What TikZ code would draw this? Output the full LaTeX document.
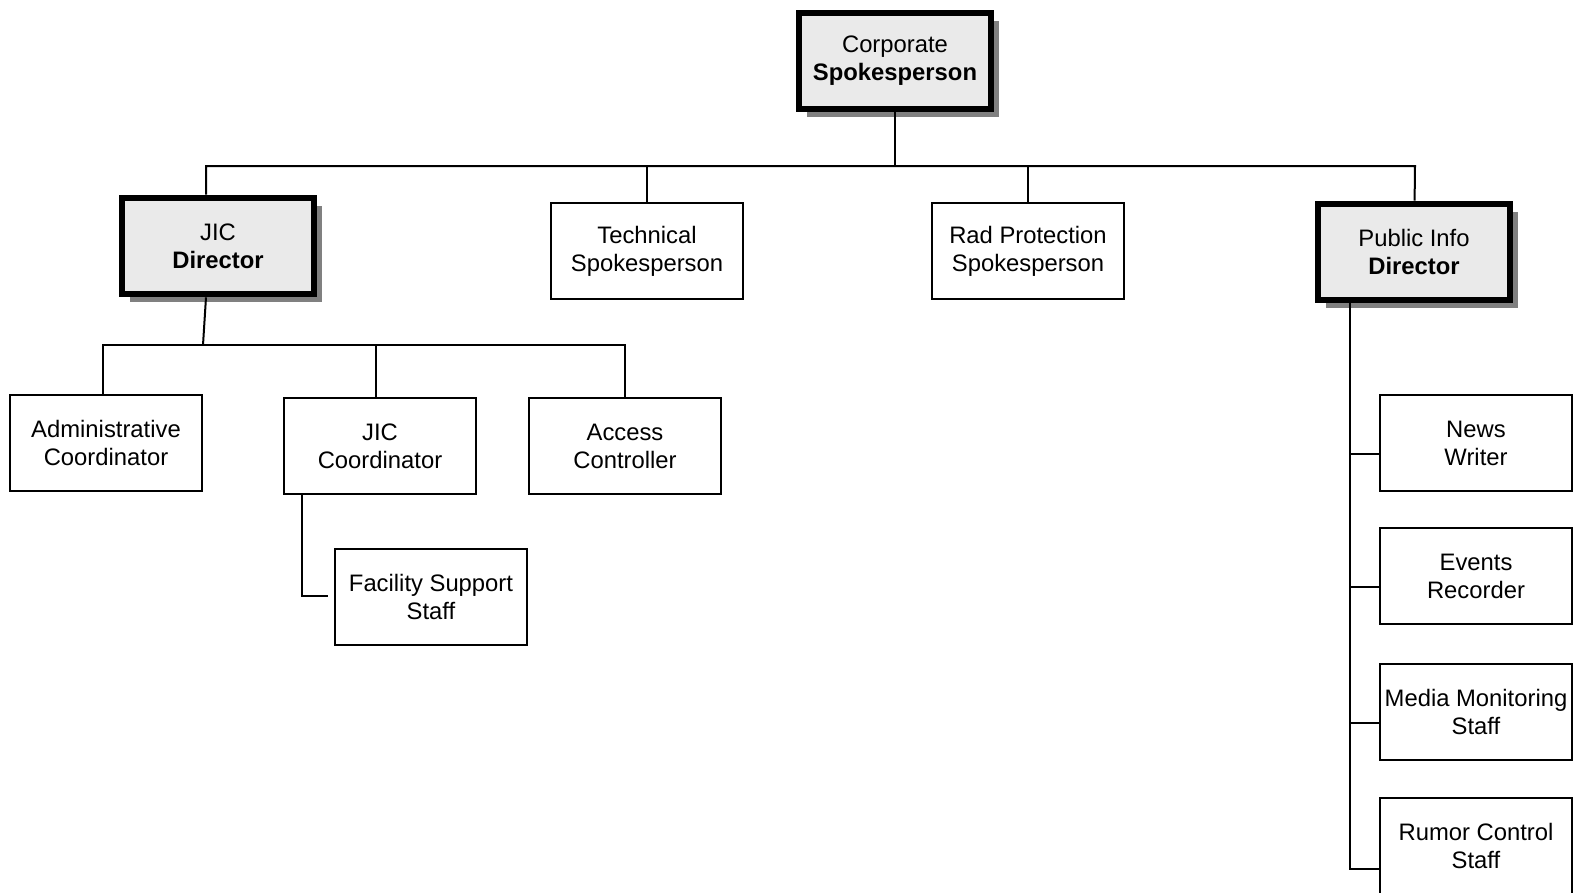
\documentclass[tikz,border=0pt]{standalone}
\usepackage{fontspec}
\setmainfont{Liberation Sans}
\usetikzlibrary{shadows}
\definecolor{leadfill}{HTML}{EAEAEA}
\definecolor{shadowgray}{HTML}{808080}
\tikzset{
  post/.style={draw, line width=1.3bp, minimum width=96bp, minimum height=48bp,
    inner sep=0pt, align=center, fill=white,
    font=\fontsize{11.95}{14.05}\selectfont},
  lead/.style={post, line width=3.3bp, fill=leadfill,
    drop shadow={shadow xshift=4bp, shadow yshift=-4bp, fill=shadowgray, opacity=1}},
  link/.style={line width=1bp}
}
\begin{document}
\begin{tikzpicture}[x=0.5bp, y=-0.5bp]
            \node[lead] (corp) at (895, 61) {Corporate\\\textbf{Spokesperson}};
            \node[lead] (jicdir) at (218, 246) {JIC\\\textbf{Director}};
            \node[post] (tech) at (647, 251) {Technical\\Spokesperson};
            \node[post] (rad) at (1028, 251) {Rad Protection\\Spokesperson};
            \node[lead] (pubdir) at (1414, 252) {Public Info\\\textbf{Director}};
            \node[post] (admin) at (106, 443) {Administrative\\Coordinator};
            \node[post] (jiccoord) at (380, 446) {JIC\\Coordinator};
            \node[post] (access) at (625, 446) {Access\\Controller};
            \node[post] (facility) at (431, 597) {Facility Support\\Staff};
            \node[post] (news) at (1476, 443) {News\\Writer};
            \node[post] (events) at (1476, 576) {Events\\Recorder};
            \node[post] (media) at (1476, 712) {Media Monitoring\\Staff};
            \node[post] (rumor) at (1476, 846) {Rumor Control\\Staff};

            \coordinate (b1) at (206, 166);
            \coordinate (b2) at (1415, 166);
            \coordinate (b3) at (103, 345);
            \coordinate (b4) at (625, 345);
            \coordinate (b5) at (203, 345);
            \coordinate (b6) at (376, 345);
            \coordinate (b7) at (302, 596);
            \coordinate (b8) at (1350, 869);

            \draw[link] (corp) -- (corp |- b1);
            \draw[link] (b1 |- jicdir.north) -- (b1) -- (b2) -- (pubdir);
            \draw[link] (tech) -- (tech |- b1);
            \draw[link] (rad) -- (rad |- b1);
            \draw[link] (b1 |- jicdir.south) -- (b5);
            \draw[link] (admin.north -| b3) -- (b3) -- (b4) -- (access);
            \draw[link] (b6) -- (b6 |- jiccoord.north);
            \draw[link, shorten >=3bp] (b7 |- jiccoord.south) -- (b7) -- (b7 -| facility.west);
            \draw[link] (b8 |- pubdir.south) -- (b8) -- (b8 -| rumor.west);
            \foreach \n in {news, events, media}
              \draw[link] ([yshift=-5.5bp]\n.west) -- ([yshift=-5.5bp]\n.west -| b8);

            \pgfresetboundingbox
            \useasboundingbox (0,0) rectangle (1574,892);
    	\end{tikzpicture}
\end{document}
